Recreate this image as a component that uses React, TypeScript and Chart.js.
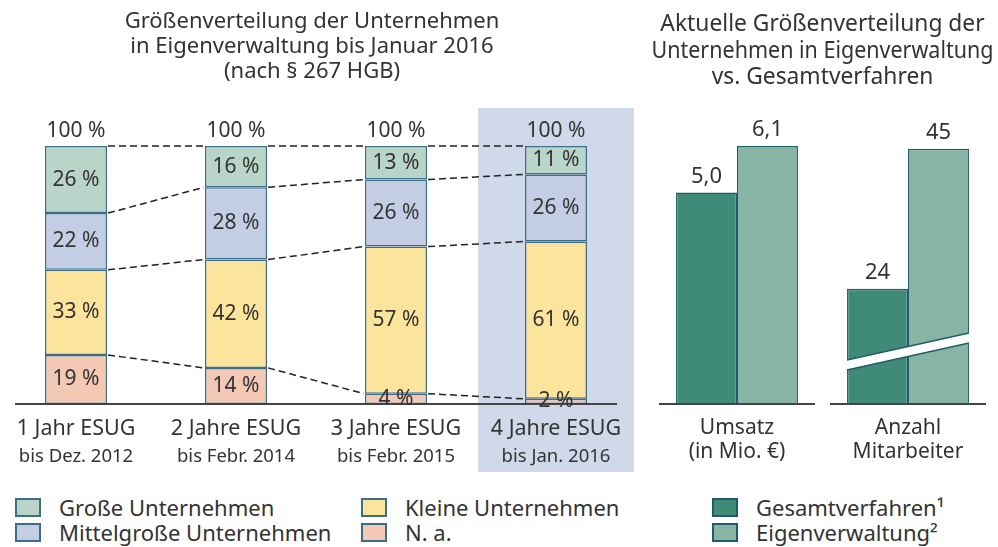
import React, { useEffect, useRef } from 'react';
import { Chart, registerables } from 'chart.js';

Chart.register(...registerables);

const FONT = '"Noto Sans", sans-serif';
const TEXT = '#333333';

// ---------- data: left chart ----------
const periods = ['1 Jahr ESUG', '2 Jahre ESUG', '3 Jahre ESUG', '4 Jahre ESUG'];
const periodDates = ['bis Dez. 2012', 'bis Febr. 2014', 'bis Febr. 2015', 'bis Jan. 2016'];
const grosse = [26, 16, 13, 11];
const mittel = [22, 28, 26, 26];
const kleine = [33, 42, 57, 61];
const na = [19, 14, 4, 2];
const leftTitle = ['Größenverteilung der Unternehmen', 'in Eigenverwaltung bis Januar 2016', '(nach § 267 HGB)'];

// ---------- data: right chart ----------
const metrics = [['Umsatz', '(in Mio. €)'], ['Anzahl', 'Mitarbeiter']];
const gesamt = [5.0, 24];
const eigen = [6.1, 45];
const rightTitle = ['Aktuelle Größenverteilung der', 'Unternehmen in Eigenverwaltung', 'vs. Gesamtverfahren'];

// ---------- styles ----------
const LEFT_BORDER = '#3d6d89';
const RIGHT_BORDER = '#1f5d6a';
const leftSeries = [
  { label: 'N. a.', data: na, color: '#f3c9b6' },
  { label: 'Kleine Unternehmen', data: kleine, color: '#fde49c' },
  { label: 'Mittelgroße Unternehmen', data: mittel, color: '#c3cde4' },
  { label: 'Große Unternehmen', data: grosse, color: '#b9d5c9' },
];
const GESAMT_COLOR = '#3f8b78';
const EIGEN_COLOR = '#87b4a3';

const fmtDe = (v: number, digits: number) => v.toFixed(digits).replace('.', ',');

const leftDecor = {
  id: 'leftDecor',
  beforeDraw(chart: any) {
    const { ctx, chartArea, scales } = chart;
    const x = scales.x;
    const step = x.getPixelForValue(1) - x.getPixelForValue(0);
    const cx = x.getPixelForValue(periods.length - 1);
    const half = step / 2 - 2;
    ctx.save();
    ctx.fillStyle = '#cfd9ea';
    const top = chartArea.top - 38;
    const bottom = chartArea.bottom + 68;
    ctx.fillRect(cx - half, top, half * 2, bottom - top);
    ctx.restore();
  },
  afterDatasetsDraw(chart: any) {
    const { ctx, chartArea } = chart;
    const metas = leftSeries.map((_, i) => chart.getDatasetMeta(i));
    const n = periods.length;
    ctx.save();
    // dashed connectors
    ctx.strokeStyle = '#222';
    ctx.lineWidth = 1.5;
    ctx.setLineDash([7, 4]);
    for (let k = 0; k < metas.length; k++) {
      for (let i = 0; i < n - 1; i++) {
        const a = metas[k].data[i].getProps(['x', 'y', 'width'], true);
        const b = metas[k].data[i + 1].getProps(['x', 'y', 'width'], true);
        ctx.beginPath();
        ctx.moveTo(a.x + a.width / 2 + 1, a.y);
        ctx.lineTo(b.x - b.width / 2 - 1, b.y);
        ctx.stroke();
      }
    }
    ctx.setLineDash([]);
    // baseline
    const first = metas[0].data[0].getProps(['x', 'width'], true);
    const last = metas[0].data[n - 1].getProps(['x', 'width'], true);
    ctx.strokeStyle = '#444';
    ctx.lineWidth = 2;
    ctx.beginPath();
    ctx.moveTo(first.x - first.width / 2 - 30, chartArea.bottom);
    ctx.lineTo(last.x + last.width / 2 + 30, chartArea.bottom);
    ctx.stroke();
    // segment labels
    ctx.fillStyle = TEXT;
    ctx.textAlign = 'center';
    ctx.textBaseline = 'middle';
    ctx.font = `21px ${FONT}`;
    for (let k = 0; k < metas.length; k++) {
      for (let i = 0; i < n; i++) {
        const p = metas[k].data[i].getProps(['x', 'y', 'base'], true);
        const v = leftSeries[k].data[i];
        ctx.fillText(`${v} %`, p.x, (p.y + p.base) / 2);
      }
    }
    // totals
    const topMeta = metas[metas.length - 1];
    for (let i = 0; i < n; i++) {
      const p = topMeta.data[i].getProps(['x', 'y'], true);
      const sum = leftSeries.reduce((s, d) => s + d.data[i], 0);
      ctx.fillText(`${sum} %`, p.x, p.y - 15);
    }
    ctx.restore();
  },
};

const rightDecor = {
  id: 'rightDecor',
  afterDatasetsDraw(chart: any) {
    const { ctx, chartArea, scales } = chart;
    ctx.save();
    // axis break on the "Anzahl" bars
    const a = chart.getDatasetMeta(2).data[1].getProps(['x', 'width'], true);
    const b = chart.getDatasetMeta(3).data[1].getProps(['x', 'width'], true);
    const xl = a.x - a.width / 2;
    const xr = b.x + b.width / 2;
    const yl = chartArea.bottom - 39;
    const yr = chartArea.bottom - 66;
    const g = 5;
    ctx.fillStyle = '#ffffff';
    ctx.beginPath();
    ctx.moveTo(xl - 1, yl - g);
    ctx.lineTo(xr + 1, yr - g);
    ctx.lineTo(xr + 1, yr + g);
    ctx.lineTo(xl - 1, yl + g);
    ctx.closePath();
    ctx.fill();
    ctx.strokeStyle = RIGHT_BORDER;
    ctx.lineWidth = 1.5;
    ctx.beginPath();
    ctx.moveTo(xl, yl - g);
    ctx.lineTo(xr, yr - g);
    ctx.moveTo(xl, yl + g);
    ctx.lineTo(xr, yr + g);
    ctx.stroke();
    // baselines per category
    const x = scales.x;
    ctx.strokeStyle = '#444';
    ctx.lineWidth = 2;
    for (let i = 0; i < metrics.length; i++) {
      const cx = x.getPixelForValue(i);
      ctx.beginPath();
      ctx.moveTo(cx - 78, chartArea.bottom);
      ctx.lineTo(cx + 78, chartArea.bottom);
      ctx.stroke();
    }
    // value labels
    ctx.fillStyle = TEXT;
    ctx.textAlign = 'center';
    ctx.textBaseline = 'middle';
    ctx.font = `22px ${FONT}`;
    chart.data.datasets.forEach((ds: any, di: number) => {
      const meta = chart.getDatasetMeta(di);
      ds.data.forEach((v: number | null, i: number) => {
        if (v == null) return;
        const p = meta.data[i].getProps(['x', 'y'], true);
        ctx.fillText(i === 0 ? fmtDe(v, 1) : fmtDe(v, 0), p.x, p.y - 16);
      });
    });
    ctx.restore();
  },
};

function LeftChart() {
  const ref = useRef<HTMLCanvasElement>(null);
  useEffect(() => {
    const chart = new Chart(ref.current as HTMLCanvasElement, {
      type: 'bar',
      data: {
        labels: periods,
        datasets: leftSeries.map((s) => ({
          label: s.label,
          data: s.data,
          backgroundColor: s.color,
          borderColor: LEFT_BORDER,
          borderWidth: 1.5,
          borderSkipped: false,
          categoryPercentage: 1,
          barPercentage: 0.3875,
        })),
      },
      options: {
        responsive: false,
        animation: false,
        layout: { padding: { left: 0, right: 0, top: 0, bottom: 11.8 } },
        plugins: {
          legend: { display: false },
          tooltip: { enabled: false },
          title: {
            display: true,
            text: leftTitle,
            color: TEXT,
            font: { family: FONT, size: 22, weight: 'normal', lineHeight: 25 / 22 },
            padding: { top: 9.5, bottom: 61.5 },
          },
        },
        scales: {
          x: {
            stacked: true,
            offset: true,
            weight: 0,
            grid: { display: false, drawTicks: false },
            border: { display: false },
            ticks: { color: TEXT, font: { family: FONT, size: 21.5, lineHeight: 1.2 }, padding: 12, maxRotation: 0, autoSkip: false },
            afterFit: (scale: any) => { scale.height = 38; },
          },
          x2: {
            type: 'category',
            labels: periodDates,
            position: 'bottom',
            offset: true,
            weight: 1,
            grid: { display: false, drawTicks: false },
            border: { display: false },
            ticks: { color: TEXT, font: { family: FONT, size: 18.5, lineHeight: 1.2 }, padding: 4, maxRotation: 0, autoSkip: false },
            afterFit: (scale: any) => { scale.height = 26.2; },
          },
          y: {
            stacked: true,
            min: 0,
            max: 100,
            position: 'left',
            grid: { display: false, drawTicks: false },
            border: { display: false },
            ticks: { display: false },
            afterFit: (scale: any) => { scale.width = 8; },
          },
        },
      },
      plugins: [leftDecor],
    } as any);
    return () => chart.destroy();
  }, []);
  return <canvas ref={ref} width={648} height={480} style={{ position: 'absolute', left: -12, top: 0 }} />;
}

function RightChart() {
  const ref = useRef<HTMLCanvasElement>(null);
  useEffect(() => {
    const common = { borderColor: RIGHT_BORDER, borderWidth: 1.5, categoryPercentage: 0.713, barPercentage: 1, skipNull: true };
    const chart = new Chart(ref.current as HTMLCanvasElement, {
      type: 'bar',
      data: {
        labels: metrics,
        datasets: [
          { label: 'Gesamtverfahren', data: [gesamt[0], null], backgroundColor: GESAMT_COLOR, yAxisID: 'yU', ...common },
          { label: 'Eigenverwaltung', data: [eigen[0], null], backgroundColor: EIGEN_COLOR, yAxisID: 'yU', ...common },
          { label: 'Gesamtverfahren', data: [null, gesamt[1]], backgroundColor: GESAMT_COLOR, yAxisID: 'yA', ...common },
          { label: 'Eigenverwaltung', data: [null, eigen[1]], backgroundColor: EIGEN_COLOR, yAxisID: 'yA', ...common },
        ],
      },
      options: {
        responsive: false,
        animation: false,
        layout: { padding: { left: 11.5, right: 4.5, top: 0, bottom: 15.25 } },
        plugins: {
          legend: { display: false },
          tooltip: { enabled: false },
          title: {
            display: true,
            text: rightTitle,
            color: TEXT,
            font: { family: FONT, size: 22.8, weight: 'normal', lineHeight: 26.5 / 22.8 },
            padding: { top: 11.75, bottom: 18.75 },
          },
        },
        scales: {
          x: {
            offset: true,
            grid: { display: false, drawTicks: false },
            border: { display: false },
            ticks: { color: TEXT, font: { family: FONT, size: 21, lineHeight: 24.5 / 21 }, padding: 11.75, maxRotation: 0, autoSkip: false },
            afterFit: (scale: any) => { scale.height = 60.75; },
          },
          yU: { display: false, min: 0, max: 6.95 },
          yA: { display: false, min: 6.75, max: 50.8 },
        },
      },
      plugins: [rightDecor],
    } as any);
    return () => chart.destroy();
  }, []);
  return <canvas ref={ref} width={358} height={480} style={{ position: 'absolute', left: 640, top: 0 }} />;
}

const boxStyle = (bg: string, border: string): React.CSSProperties => ({
  display: 'inline-block',
  boxSizing: 'border-box',
  width: 26,
  height: 19,
  background: bg,
  border: `2px solid ${border}`,
  marginRight: 18,
  flex: '0 0 auto',
});

function LegendItem({ label, bg, border, x, y }: { label: string; bg: string; border: string; x: number; y: number }) {
  return (
    <div style={{ position: 'absolute', left: x, top: y - 13, height: 26, lineHeight: '26px', fontFamily: FONT, fontSize: 22, color: TEXT, whiteSpace: 'nowrap', display: 'flex', alignItems: 'center' }}>
      <span style={boxStyle(bg, border)} />
      <span>{label}</span>
    </div>
  );
}

export default function App() {
  const byLabel = (l: string) => leftSeries.find((s) => s.label === l)!;
  return (
    <div style={{ position: 'absolute', left: 0, top: 0, width: 998, height: 547, overflow: 'hidden', background: '#ffffff' }}>
      <LeftChart />
      <RightChart />
      <LegendItem label="Große Unternehmen" bg={byLabel('Große Unternehmen').color} border={LEFT_BORDER} x={15} y={507} />
      <LegendItem label="Mittelgroße Unternehmen" bg={byLabel('Mittelgroße Unternehmen').color} border={LEFT_BORDER} x={15} y={532} />
      <LegendItem label="Kleine Unternehmen" bg={byLabel('Kleine Unternehmen').color} border={LEFT_BORDER} x={361} y={507} />
      <LegendItem label="N. a." bg={byLabel('N. a.').color} border={LEFT_BORDER} x={361} y={532} />
      <LegendItem label="Gesamtverfahren¹" bg={GESAMT_COLOR} border={RIGHT_BORDER} x={712} y={507} />
      <LegendItem label="Eigenverwaltung²" bg={EIGEN_COLOR} border={RIGHT_BORDER} x={712} y={532} />
    </div>
  );
}
